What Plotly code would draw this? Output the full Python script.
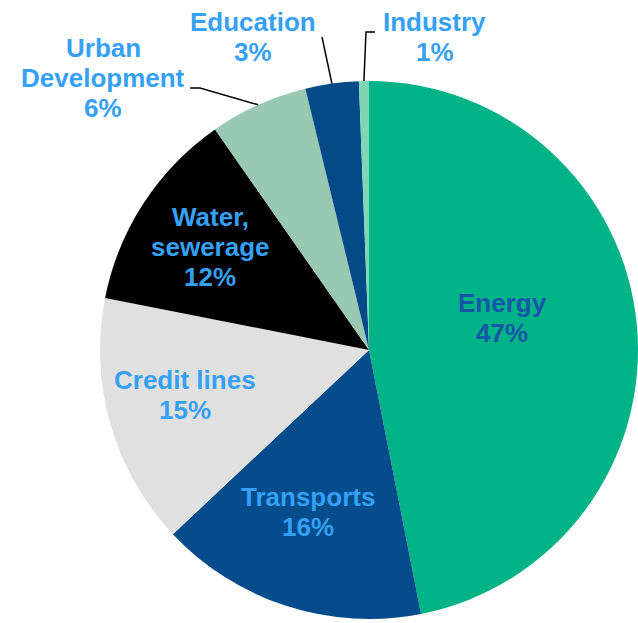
import math
import plotly.graph_objects as go

# ---- data ----
sectors = ["Energy", "Transports", "Credit lines", "Water,<br>sewerage",
           "Urban<br>Development", "Education", "Industry"]
shares = [46.9, 16.1, 15.1, 12.2, 5.9, 3.2, 0.6]
label_pct = ["47%", "16%", "15%", "12%", "6%", "3%", "1%"]

# ---- styles ----
W, H = 638, 623
slice_colors = ["#02B388", "#044C8C", "#E0E0E0", "#000000", "#99C8B3", "#044A87", "#7FD6B4"]
label_colors = ["#1656A8", "#36A0F7", "#36A0F7", "#36A0F7", "#36A0F7", "#36A0F7", "#36A0F7"]
# label block centres (px) – layout only
label_pos = [(502, 318), (308, 512), (185, 395), (210, 247), (103, 78), (253, 37), (435, 37)]
line_pitch = 30
font_size = 26
# pie placement (px)
px_left, px_right, px_top, px_bottom = 100, 638, 80, 620

fig = go.Figure(go.Pie(
    labels=sectors, values=shares, sort=False, direction="clockwise", rotation=0,
    marker=dict(colors=slice_colors, line=dict(width=0)),
    textinfo="none", hoverinfo="label+percent", showlegend=False,
    domain=dict(x=[px_left / W, px_right / W], y=[1 - px_bottom / H, 1 - px_top / H]),
))

def to_paper(x, y):
    return x / W, 1 - y / H

annotations = []
for name, pct, col, (lx, ly) in zip(sectors, label_pct, label_colors, label_pos):
    lines = name.split("<br>") + [pct]
    n = len(lines)
    for k, ln in enumerate(lines):
        yy = ly + (k - (n - 1) / 2) * line_pitch
        px, py = to_paper(lx, yy)
        annotations.append(dict(
            text=f"<b>{ln}</b>", x=px, y=py, xref="paper", yref="paper",
            xanchor="center", yanchor="middle", showarrow=False, align="center",
            font=dict(family="Liberation Sans", size=font_size, color=col),
        ))

# leader lines to small slices, end points from slice mid-angles
r = min(px_right - px_left, px_bottom - px_top) / 2
cx = (px_left + px_right) / 2
cy = (px_top + px_bottom) / 2
total = sum(shares)
cum = []
acc = 0
for v in shares:
    cum.append(acc + v / 2)
    acc += v

def edge_point(i):
    th = 2 * math.pi * cum[i] / total
    return cx + r * math.sin(th), cy - r * math.cos(th)

shapes = []
leader_starts = {4: [(190, 88), (200, 88)], 5: [(322, 37)], 6: [(375, 32), (366, 32)]}
for i, pts in leader_starts.items():
    ex, ey = edge_point(i)
    allpts = pts + [(ex, ey)]
    path = "M " + " L ".join(f"{to_paper(x, y)[0]},{to_paper(x, y)[1]}" for x, y in allpts)
    shapes.append(dict(type="path", path=path, xref="paper", yref="paper",
                       line=dict(color="#000000", width=1.5)))

fig.update_layout(
    width=W, height=H, margin=dict(l=0, r=0, t=0, b=0),
    paper_bgcolor="white", plot_bgcolor="white",
    annotations=annotations, shapes=shapes,
)

fig.write_html("out.html")
